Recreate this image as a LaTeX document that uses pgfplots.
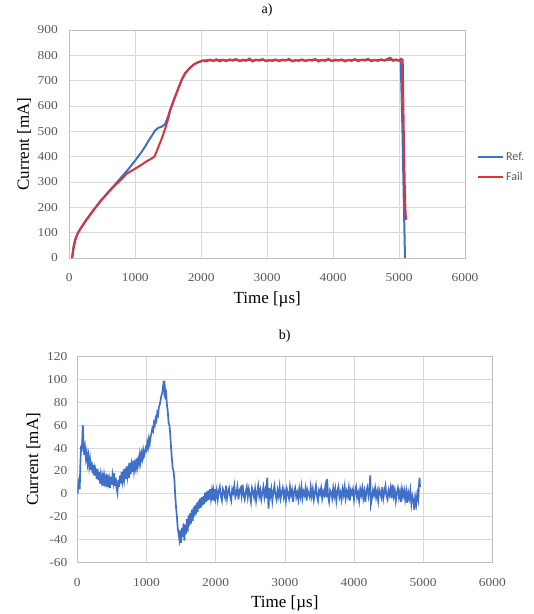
\documentclass[border=0pt]{standalone}
\usepackage{fontspec}
\setmainfont{Liberation Serif}
\newfontfamily\tickfont[FakeStretch=1.12]{Liberation Serif}
\newfontfamily\legfont{Carlito}
\usepackage{pgfplots}
\pgfplotsset{compat=1.18}

\definecolor{refblue}{HTML}{3F6FC6}
\definecolor{failred}{HTML}{D9333B}
\definecolor{gridgray}{HTML}{D9D9D9}
\definecolor{boxgray}{HTML}{BFBFBF}
\definecolor{ticktext}{HTML}{595959}

\pgfplotsset{
  excelstyle/.style={
    scale only axis,
    anchor=south west,
    xmin=0, xmax=6000,
    xtick={0,1000,2000,3000,4000,5000,6000},
    grid=major,
    major grid style={draw=gridgray, line width=0.6bp},
    axis line style={draw=boxgray, line width=0.6bp},
    tick style={draw=none},
    /pgf/number format/assume math mode=true,
    /pgf/number format/1000 sep={},
    ticklabel style={font=\tickfont\fontsize{12bp}{14bp}\selectfont, text=ticktext},
    label style={font=\fontsize{17bp}{20bp}\selectfont},
    title style={font=\fontsize{14bp}{16bp}\selectfont},
  }
}

\begin{document}
\begin{tikzpicture}[x=1bp,y=1bp]
\useasboundingbox (0,0) rectangle (534,614);

% ---- a) ----
\begin{axis}[
  excelstyle,
  at={(69.3bp,356bp)},
  width=395.7bp, height=228bp,
  ymin=0, ymax=900,
  ytick={0,100,...,900},
  xticklabel shift=12bp,
  yticklabel shift=8bp,
  xlabel={Time [µs]},
  ylabel={Current [mA]},
  xlabel style={at={(axis description cs:0.5,-0.18)}, anchor=center},
  ylabel style={at={(axis description cs:-0.114,0.5)}, anchor=center},
  title={a)},
  title style={at={(axis description cs:0.5,1.061)}, anchor=center},
  legend style={draw=none, fill=none, font=\legfont\fontsize{12bp}{14bp}\selectfont,
    text=ticktext, at={(axis description cs:1.03,0.40)}, anchor=west,
    row sep=6bp, inner sep=0pt},
  legend cell align=left,
  legend image code/.code={\draw[#1, line width=2bp] (0bp,0bp) -- (25bp,0bp);},
]
\addplot[refblue, line width=2bp] coordinates {
(40,0) (60,40) (86,71) (130,100) (188,124) (260,152) (364,189) (480,228)
(617,268) (700,292) (800,322) (900,352) (1000,385) (1100,420) (1150,440)
(1200,462) (1250,482) (1300,503) (1350,514) (1400,518) (1450,528)
(1500,560) (1527,584) (1590,628) (1653,670) (1700,702) (1754,729)
(1820,748) (1880,762) (1950,772) (2032,779) (2100,781) (2200,779)
(2300,782) (2400,780) (2500,783) (2600,779) (2700,782) (2800,780)
(2900,783) (3000,779) (3100,781) (3200,780) (3300,782) (3400,779)
(3500,781) (3600,780) (3700,783) (3800,780) (3900,782) (4000,779)
(4100,781) (4200,780) (4300,782) (4400,781) (4500,783) (4600,780)
(4700,782) (4800,781) (4900,783) (4980,780) (5025,778) (5050,520)
(5070,250) (5090,0)
};
\addlegendentry{Ref.}
\addplot[failred, line width=2bp] coordinates {
(45,0) (65,38) (90,70) (130,98) (188,122) (260,150) (364,187) (480,226)
(617,266) (700,288) (800,313) (870,333) (950,345) (1000,353) (1100,369)
(1150,378) (1200,386) (1250,393) (1290,400) (1320,418) (1350,438)
(1400,470) (1450,508) (1500,550) (1527,580) (1590,626) (1653,669)
(1700,700) (1754,728) (1820,748) (1880,763) (1950,773) (2032,780)
(2080,776) (2130,783) (2180,778) (2230,784) (2280,776) (2330,782)
(2380,777) (2430,784) (2480,779) (2530,785) (2580,777) (2630,783)
(2680,778) (2730,787) (2780,776) (2830,783) (2880,779) (2930,785)
(2980,777) (3030,782) (3080,778) (3130,784) (3180,777) (3230,783)
(3280,779) (3330,786) (3380,776) (3430,782) (3480,778) (3530,784)
(3580,777) (3630,783) (3680,779) (3730,785) (3780,776) (3830,782)
(3880,778) (3930,786) (3980,777) (4030,783) (4080,779) (4130,784)
(4180,776) (4230,782) (4280,778) (4330,785) (4380,777) (4430,783)
(4480,779) (4530,786) (4580,777) (4630,782) (4680,778) (4730,784)
(4780,779) (4830,787) (4870,790) (4910,778) (4950,784) (4990,779)
(5030,786) (5055,782) (5070,520) (5085,300) (5095,200) (5105,150)
};
\addlegendentry{Fail}
\end{axis}

% ---- b) ----
\begin{axis}[
  excelstyle,
  at={(77.3bp,51.7bp)},
  width=415bp, height=205.6bp,
  ymin=-60, ymax=120,
  ytick={-60,-40,...,120},
  xticklabel shift=12.5bp,
  yticklabel shift=6.5bp,
  xlabel={Time [µs]},
  ylabel={Current [mA]},
  xlabel style={at={(axis description cs:0.5,-0.198)}, anchor=center},
  ylabel style={at={(axis description cs:-0.106,0.5)}, anchor=center},
  title={b)},
  title style={at={(axis description cs:0.5,1.073)}, anchor=center},
]
\addplot[refblue, line width=1.7bp] coordinates {
(5,0) (15,9) (25,12) (35,4) (45,28) (55,42) (65,37) (80,60) (90,44)
(100,34) (112,40) (124,31) (136,36) (148,27) (160,33) (172,24) (184,30)
(196,21) (208,28) (220,18) (232,25) (244,16) (256,23) (268,20) (280,13)
(292,22) (304,12) (316,19) (328,9) (340,17) (352,11) (364,15) (376,7)
(388,16) (400,10) (412,14) (424,6) (436,17) (448,9) (460,13) (472,5)
(484,15) (496,8) (508,16) (520,10) (532,18) (544,7) (556,14) (568,5)
(580,1) (592,12) (604,6) (616,16) (628,9) (640,19) (652,11) (664,17)
(676,12) (688,22) (700,13) (712,24) (724,15) (736,21) (748,14) (760,27)
(772,17) (784,25) (796,19) (808,29) (820,20) (832,26) (844,22) (856,31)
(868,24) (880,30) (892,26) (904,34) (916,28) (928,35) (940,31) (952,38)
(964,33) (976,36) (988,40) (1000,38) (1012,45) (1024,41) (1036,48)
(1048,44) (1060,50) (1072,53) (1084,57) (1096,55) (1108,62) (1120,60)
(1132,66) (1144,64) (1156,71) (1168,69) (1180,76) (1192,78) (1204,82)
(1216,86) (1228,88) (1240,94) (1250,99) (1258,90) (1266,93) (1274,86)
(1284,88) (1296,78) (1308,72) (1320,62) (1332,60) (1344,52) (1356,40)
(1368,30) (1380,22) (1392,20) (1404,12) (1416,-2) (1428,-12) (1440,-20)
(1452,-30) (1464,-35) (1476,-40) (1488,-32) (1500,-43) (1512,-30)
(1524,-38) (1536,-26) (1548,-41) (1560,-27) (1572,-35) (1584,-22)
(1596,-33) (1608,-19) (1620,-28) (1632,-17) (1644,-26) (1656,-14)
(1668,-24) (1680,-12) (1692,-20) (1704,-10) (1716,-18) (1728,-8)
(1740,-16) (1752,-6) (1764,-13) (1776,-4) (1788,-12) (1800,-3)
(1812,-10) (1824,-2) (1836,-9) (1848,1) (1860,-7) (1872,2) (1884,-6)
(1896,3) (1908,-5) (1920,4) (1932,-4) (1944,2) (1956,-6) (1968,3)
(1980,-2) (1992,4)
(2000,-3) (2015,3) (2030,-5) (2045,2) (2060,6) (2075,-2) (2090,-6)
(2105,4) (2120,1) (2135,-3) (2150,7) (2165,-4) (2180,2) (2195,5)
(2210,-2) (2225,-6) (2240,4) (2255,1) (2270,7) (2285,-3) (2300,0)
(2315,6) (2330,-5) (2345,3) (2360,5) (2375,-2) (2390,8) (2405,-1)
(2420,-5) (2435,2) (2450,6) (2465,-3) (2480,4) (2495,-1)
(2510,-7) (2525,5) (2540,2) (2555,-3) (2570,4) (2585,-6) (2600,1)
(2615,7) (2630,-2) (2645,3) (2660,-5) (2675,1) (2690,6) (2705,-3)
(2720,3) (2735,-4) (2745,14) (2755,0) (2765,-13) (2775,5) (2790,-2)
(2805,4) (2820,-6) (2835,2) (2850,7) (2865,-1) (2880,-5) (2895,3)
(2910,-2) (2925,6) (2940,-4) (2955,1) (2970,5) (2985,-3)
(3000,2) (3015,-6) (3030,4) (3045,0) (3060,-4) (3075,6) (3090,-1)
(3105,3) (3120,-7) (3135,2) (3150,5) (3165,-3) (3180,1) (3195,-5)
(3210,4) (3225,-2) (3240,6) (3255,-4) (3270,2) (3285,-1) (3300,5)
(3315,-6) (3330,3) (3345,0) (3360,-3) (3375,6) (3390,-2) (3405,4)
(3420,-5) (3435,1) (3450,7) (3465,-2) (3480,-6) (3495,3)
(3510,0) (3525,5) (3540,-4) (3555,2) (3570,-1) (3585,6) (3600,-3)
(3612,13) (3625,-2) (3640,-7) (3655,3) (3670,1) (3685,-4) (3700,5)
(3715,-2) (3730,4) (3745,-6) (3760,2) (3775,6) (3790,-3) (3805,1)
(3820,-5) (3835,4) (3850,-1) (3865,6) (3880,-4) (3895,2) (3910,-2)
(3925,5) (3940,-6) (3955,3) (3970,0) (3985,4)
(4000,-5) (4015,2) (4030,6) (4045,-3) (4060,1) (4075,-6) (4090,4)
(4105,-1) (4120,5) (4135,-4) (4150,2) (4165,-7) (4180,3) (4195,6)
(4210,-2) (4225,4) (4235,16) (4245,-9) (4260,-4) (4275,3) (4290,-1)
(4305,5) (4320,-3) (4335,2) (4350,-6) (4365,4) (4380,1) (4395,-3)
(4410,6) (4425,-4) (4440,2) (4455,7) (4470,-2) (4485,-5)
(4500,3) (4515,-1) (4530,5) (4545,-4) (4560,8) (4575,-2) (4590,3)
(4605,-6) (4620,1) (4635,5) (4650,-3) (4665,2) (4680,-7) (4695,4)
(4710,-2) (4725,3) (4740,-5) (4755,2) (4770,-8) (4785,1) (4800,-4)
(4815,3) (4830,-9) (4845,-2) (4860,-6) (4872,-14) (4885,-3) (4900,-9)
(4915,0) (4930,-5) (4940,8) (4948,14) (4955,6)
};
\end{axis}
\end{tikzpicture}
\end{document}
